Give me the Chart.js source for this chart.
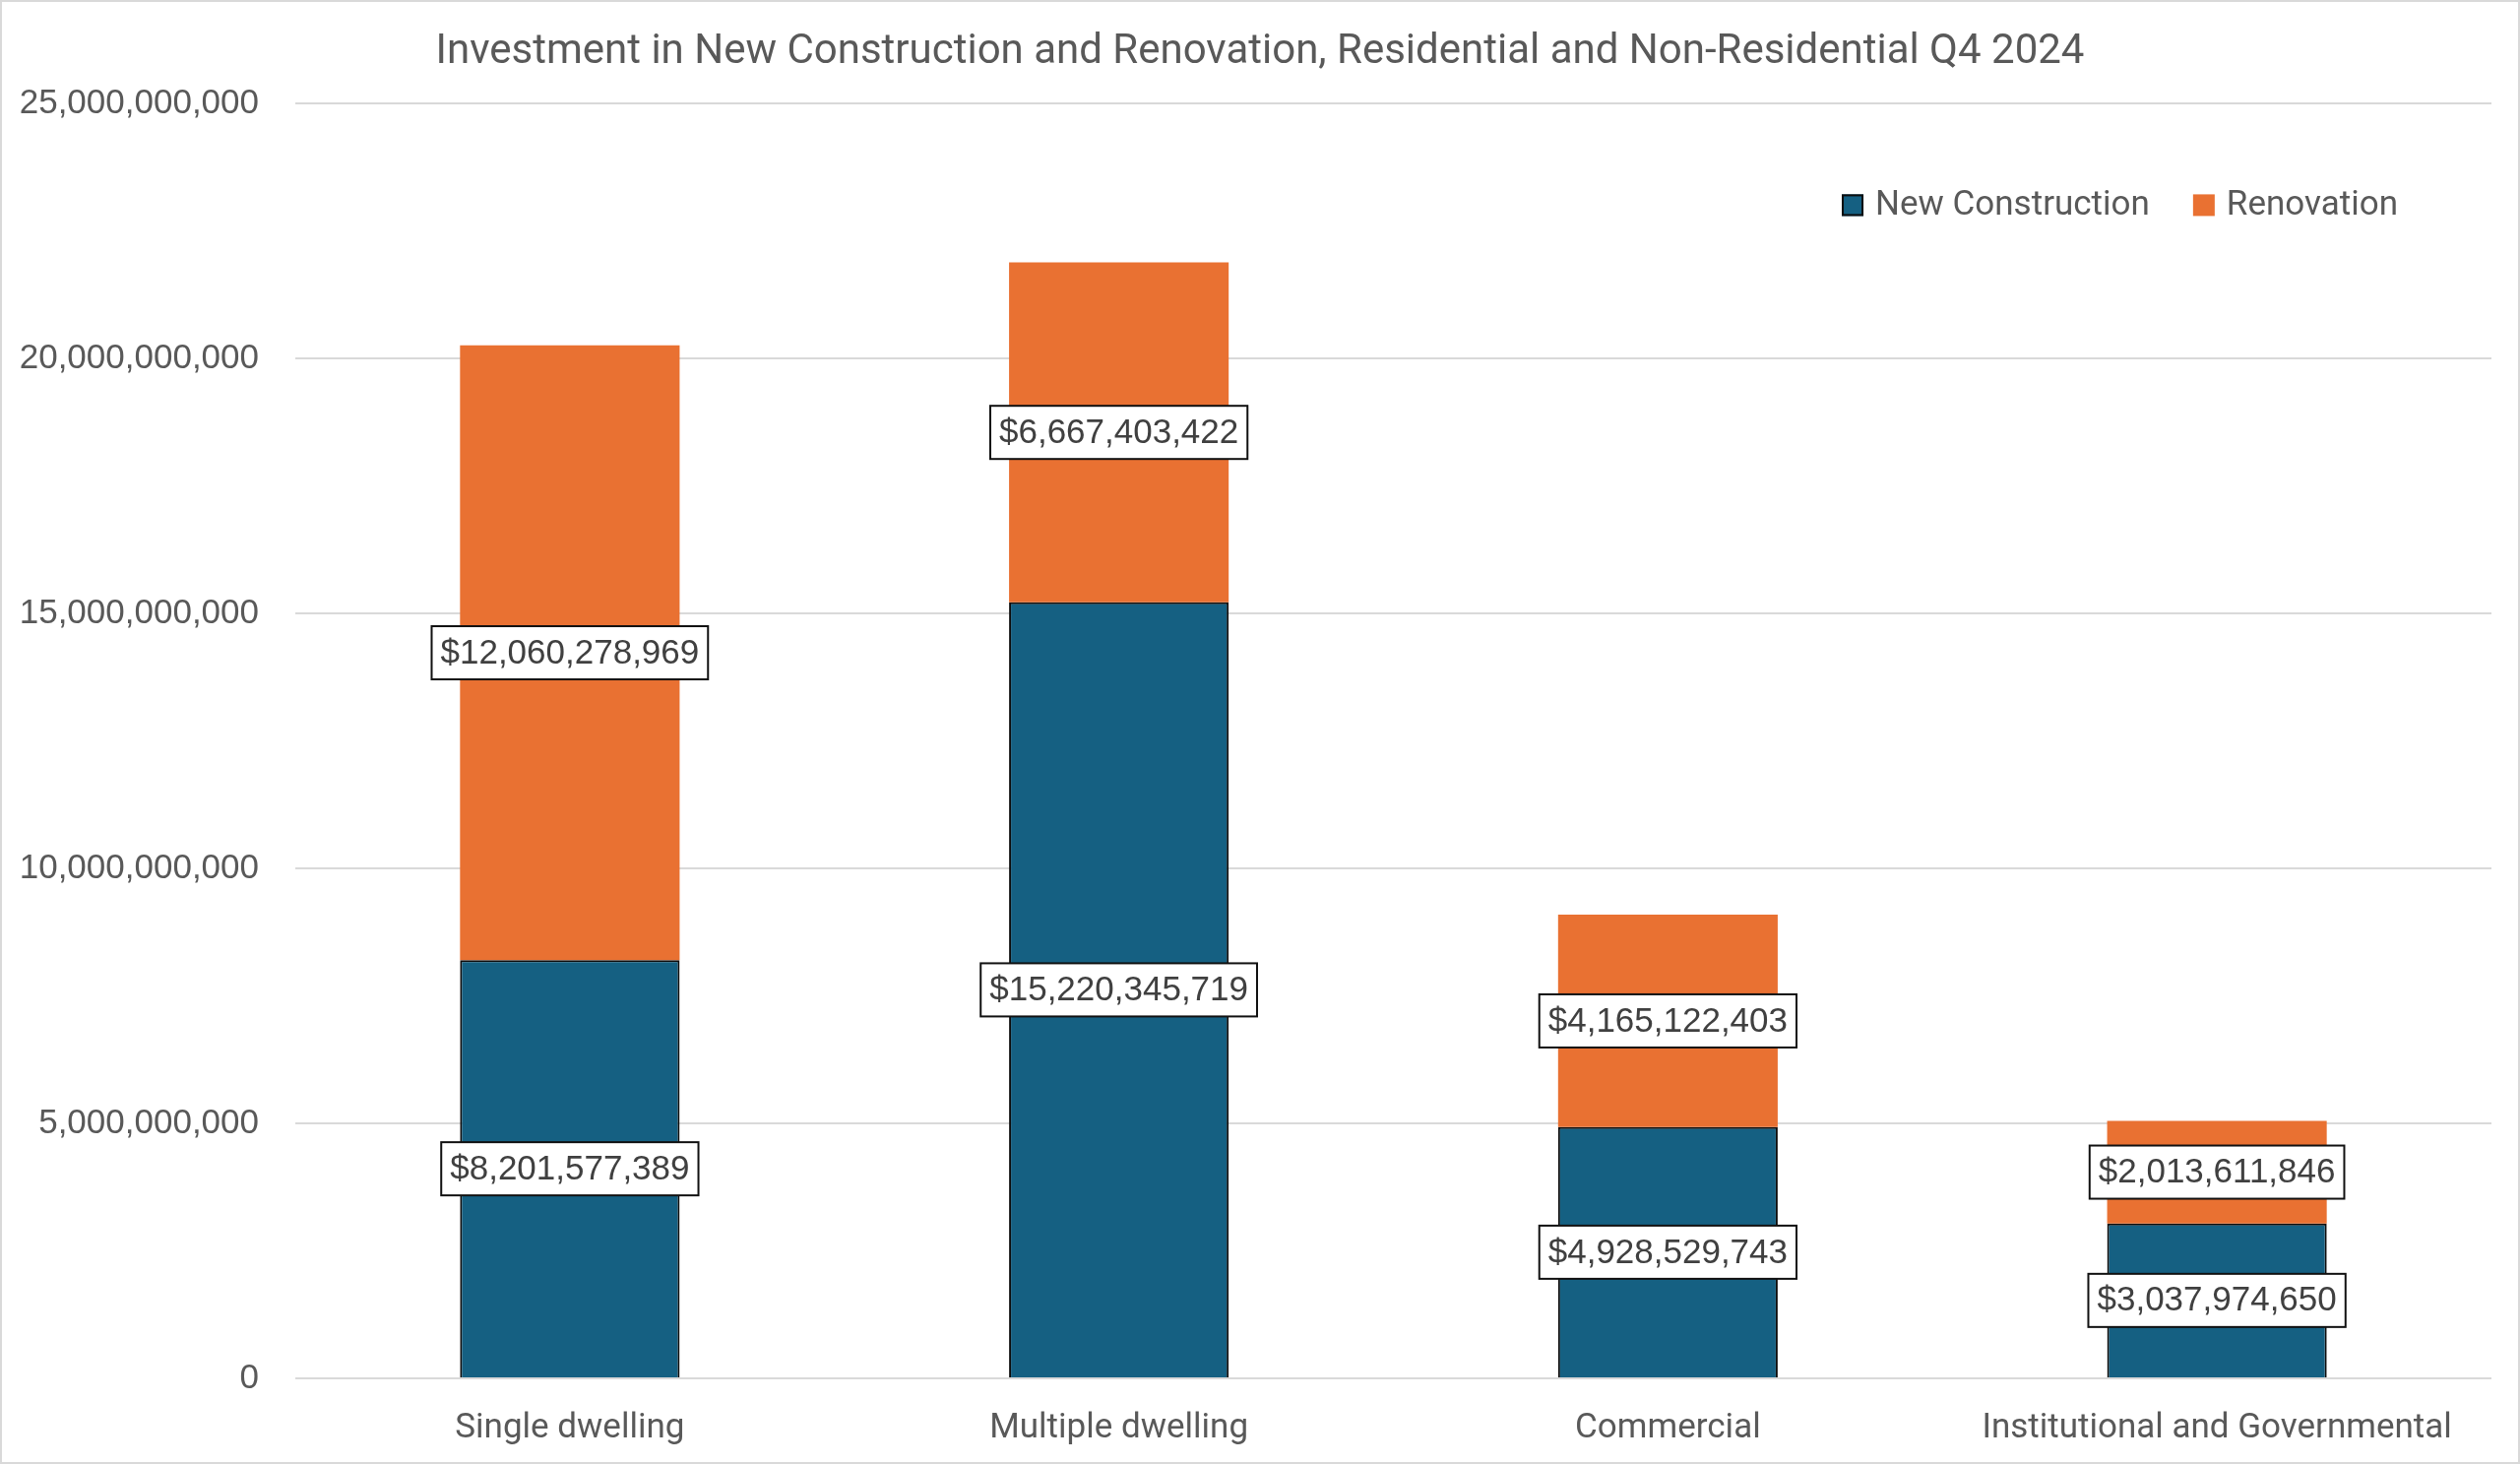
<!DOCTYPE html>
<html>
<head>
<meta charset="utf-8">
<script src="https://cdn.jsdelivr.net/npm/chart.js@4.4.1/dist/chart.umd.min.js"></script>
<style>
  html, body { margin: 0; padding: 0; background: #fff; overflow: hidden; }
  #wrap { width: 2560px; height: 1487px; position: relative; }
</style>
</head>
<body>
<div id="wrap"><canvas id="investChart"></canvas></div>
<script>
// chart data
var categories = ["Single dwelling", "Multiple dwelling", "Commercial", "Institutional and Governmental"];
var newConstruction = [8201577389, 15220345719, 4928529743, 3037974650];
var renovation = [12060278969, 6667403422, 4165122403, 2013611846];
var yTicks = [0, 5000000000, 10000000000, 15000000000, 20000000000, 25000000000];

var textGrey = '#595959';

function money(v) { return '$' + Math.round(v).toLocaleString('en-US'); }

// light grey frame round the whole chart, title centred on the full width
var framePlugin = {
  id: 'frame',
  afterLayout: function(chart) {
    if (chart.titleBlock) {
      chart.titleBlock.left = 0;
      chart.titleBlock.right = chart.width;
    }
  },
  beforeDraw: function(chart) {
    var c = chart.ctx;
    c.save();
    c.fillStyle = '#fff';
    c.fillRect(0, 0, chart.width, chart.height);
    c.strokeStyle = '#d9d9d9';
    c.lineWidth = 2;
    c.strokeRect(1, 1, chart.width - 2, chart.height - 2);
    c.restore();
  }
};

// boxed value labels in the middle of every segment
var boxLabels = {
  id: 'boxLabels',
  afterDatasetsDraw: function(chart) {
    var c = chart.ctx;
    c.save();
    c.font = '35px "Liberation Sans", Arial, sans-serif';
    c.textAlign = 'center';
    c.textBaseline = 'middle';
    chart.data.datasets.forEach(function(ds, i) {
      chart.getDatasetMeta(i).data.forEach(function(bar, j) {
        var txt = money(ds.data[j]);
        var cy = (bar.y + bar.base) / 2;
        var w = c.measureText(txt).width + 18;
        var h = 54;
        c.fillStyle = '#fff';
        c.fillRect(bar.x - w / 2, cy - h / 2, w, h);
        c.strokeStyle = '#111';
        c.lineWidth = 2;
        c.strokeRect(bar.x - w / 2, cy - h / 2, w, h);
        c.fillStyle = '#404040';
        c.fillText(txt, bar.x, cy + 1);
      });
    });
    c.restore();
  }
};

// legend sitting inside the plot, top right
var innerLegend = {
  id: 'innerLegend',
  afterDraw: function(chart) {
    var c = chart.ctx;
    var a = chart.chartArea;
    var box = 22, gap = 12, between = 44;
    c.save();
    c.font = '35px Roboto, sans-serif';
    c.textBaseline = 'middle';
    var sets = chart.data.datasets;
    var total = 0;
    sets.forEach(function(ds, i) {
      total += box + gap + c.measureText(ds.label).width + (i < sets.length - 1 ? between : 0);
    });
    var x = a.right - 95 - total;
    var y = a.top + 103;
    sets.forEach(function(ds) {
      c.fillStyle = ds.backgroundColor;
      c.fillRect(x, y - box / 2, box, box);
      if (ds.borderWidth) {
        c.strokeStyle = ds.borderColor;
        c.lineWidth = 2;
        c.strokeRect(x + 1, y - box / 2 + 1, box - 2, box - 2);
      }
      x += box + gap;
      c.fillStyle = textGrey;
      c.fillText(ds.label, x, y + 1);
      x += c.measureText(ds.label).width + between;
    });
    c.restore();
  }
};

var ctx = document.getElementById('investChart');
var investChart = new Chart(ctx, {
  type: 'bar',
  data: {
    labels: categories,
    datasets: [{
      label: 'New Construction',
      data: newConstruction,
      backgroundColor: '#156082',
      borderColor: '#0d0d0d',
      borderWidth: 2,
      barPercentage: 0.4,
      categoryPercentage: 1.0
    }, {
      label: 'Renovation',
      data: renovation,
      backgroundColor: '#E97132',
      borderWidth: 0,
      barPercentage: 0.4,
      categoryPercentage: 1.0
    }]
  },
  options: {
    responsive: true,
    maintainAspectRatio: false,
    animation: false,
    layout: { padding: { left: 0, right: 29, top: 0, bottom: 17 } },
    plugins: {
      legend: { display: false },
      tooltip: { enabled: false },
      title: {
        display: true,
        text: 'Investment in New Construction and Renovation, Residential and Non-Residential Q4 2024',
        color: textGrey,
        font: { family: 'Roboto', size: 42, weight: 'normal' },
        padding: { top: 28, bottom: 27 }
      }
    },
    scales: {
      x: {
        stacked: true,
        afterFit: function(s) { s.height = 70; },
        grid: { display: false, drawTicks: false },
        border: { display: false },
        ticks: {
          color: textGrey,
          padding: 30,
          font: { family: 'Roboto', size: 35 }
        }
      },
      y: {
        stacked: true,
        min: 0,
        max: 25000000000,
        afterBuildTicks: function(s) { s.ticks = yTicks.map(function(v) { return { value: v }; }); },
        afterFit: function(s) { s.width = 300; },
        grid: { color: '#d9d9d9', lineWidth: 2, drawTicks: false },
        border: { display: false },
        ticks: {
          color: textGrey,
          padding: 37,
          font: { family: '"Liberation Sans"', size: 35 },
          callback: function(v) { return Number(v).toLocaleString('en-US'); }
        }
      }
    }
  },
  plugins: [framePlugin, boxLabels, innerLegend]
});
</script>
</body>
</html>
